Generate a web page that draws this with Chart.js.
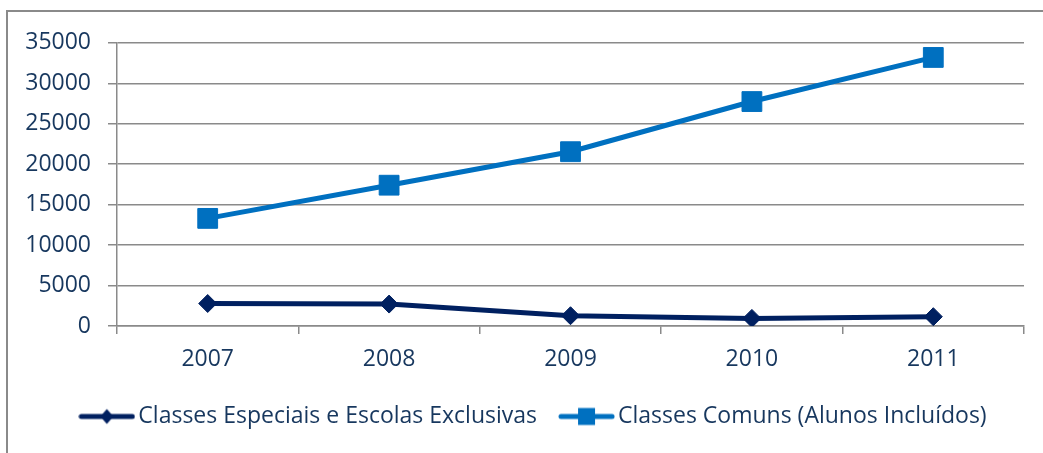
<!DOCTYPE html>
<html>
<head>
<meta charset="utf-8">
<script src="https://cdn.jsdelivr.net/npm/chart.js@4.4.1/dist/chart.umd.min.js"></script>
<style>
  html, body { margin: 0; padding: 0; background: #fff; overflow: hidden; }
  body { width: 1043px; height: 453px; position: relative; }
  #frame {
    position: absolute; left: 6px; top: 10px;
    width: 1050px; height: 441px;
    border-left: 2px solid #8a8a8a; border-top: 2px solid #8a8a8a;
  }
  #frame canvas { display: block; }
</style>
</head>
<body>
<div id="frame"><canvas id="chart" width="1050" height="441"></canvas></div>
<script>
const years = ["2007", "2008", "2009", "2010", "2011"];
const especiais = [2780, 2710, 1270, 940, 1150];
const comuns = [13300, 17400, 21540, 27740, 33190];
const seriesNames = ["Classes Especiais e Escolas Exclusivas", "Classes Comuns (Alunos Incluídos)"];

const TEXT = "#17375E";
const NAVY = "#002060";
const BLUE = "#0070C0";
const GRID = "#8a8a8a";
const FONT = "'Open Sans', sans-serif";

// small line + marker picture used as the legend symbol
function legendSymbol(color, marker) {
  const c = document.createElement("canvas");
  c.width = 57;
  c.height = 22;
  const g = c.getContext("2d");
  g.strokeStyle = color;
  g.fillStyle = color;
  g.lineWidth = 5;
  g.lineCap = "round";
  g.beginPath();
  g.moveTo(3, 11);
  g.lineTo(54, 11);
  g.stroke();
  g.beginPath();
  if (marker === "diamond") {
    g.moveTo(28.5, 3.5);
    g.lineTo(35, 11);
    g.lineTo(28.5, 18.5);
    g.lineTo(22, 11);
  } else {
    g.rect(20, 2.5, 17, 17);
  }
  g.closePath();
  g.fill();
  return c;
}

const symbols = [legendSymbol(NAVY, "diamond"), legendSymbol(BLUE, "square")];

// push the legend row a bit to the right of the layout centre
const legendShift = {
  id: "legendShift",
  afterLayout(chart) {
    chart.legend.left += 41.5;
  },
};

new Chart(document.getElementById("chart"), {
  type: "line",
  data: {
    labels: years,
    datasets: [
      {
        label: seriesNames[0],
        data: especiais,
        borderColor: NAVY,
        backgroundColor: NAVY,
        borderWidth: 5,
        pointStyle: "rectRot",
        pointRadius: 9,
        pointBorderWidth: 1,
        pointHoverRadius: 9,
        tension: 0,
      },
      {
        label: seriesNames[1],
        data: comuns,
        borderColor: BLUE,
        backgroundColor: BLUE,
        borderWidth: 5,
        pointStyle: "rect",
        pointRadius: 14,
        pointBorderWidth: 1,
        pointHoverRadius: 14,
        tension: 0,
      },
    ],
  },
  plugins: [legendShift],
  options: {
    responsive: false,
    animation: false,
    events: [],
    layout: { padding: { top: 29, right: 34, bottom: 15, left: 0 } },
    plugins: {
      tooltip: { enabled: false },
      legend: {
        position: "bottom",
        labels: {
          color: TEXT,
          font: { family: FONT, size: 23 },
          usePointStyle: true,
          pointStyleWidth: 40,
          padding: 29.5,
          generateLabels: (chart) =>
            chart.data.datasets.map((ds, i) => ({
              text: ds.label,
              fontColor: TEXT,
              pointStyle: symbols[i],
              datasetIndex: i,
              hidden: false,
              lineWidth: 0,
            })),
        },
      },
    },
    scales: {
      x: {
        offset: true,
        grid: {
          offset: true,
          drawOnChartArea: false,
          drawTicks: true,
          tickLength: 8,
          color: GRID,
          lineWidth: 1.5,
        },
        border: { color: GRID, width: 1.5 },
        ticks: { color: TEXT, font: { family: FONT, size: 23 }, padding: 12 },
        afterFit: (scale) => { scale.height = 49.5; },
      },
      y: {
        min: 0,
        max: 35000,
        ticks: {
          stepSize: 5000,
          color: TEXT,
          font: { family: FONT, size: 23 },
          padding: 17,
          callback: (v) => String(v),
        },
        grid: { color: GRID, lineWidth: 1.5, tickLength: 9 },
        border: { color: GRID, width: 1.5 },
        afterFit: (scale) => { scale.width = 109; },
      },
    },
  },
});
</script>
</body>
</html>
